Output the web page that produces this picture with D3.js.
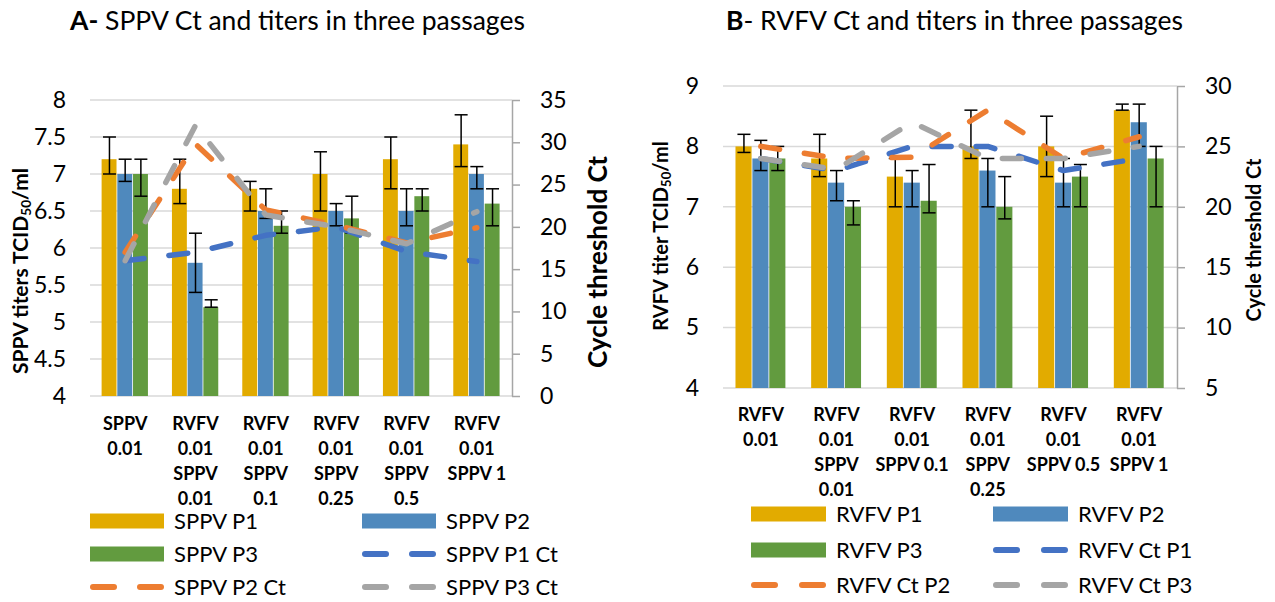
<!DOCTYPE html>
<html><head><meta charset="utf-8">
<script src="https://cdn.jsdelivr.net/npm/d3@7"></script>
<style>
html,body{margin:0;padding:0;background:#fff;}
text{font-family:Lato,"Open Sans",sans-serif;fill:#000;}
</style></head>
<body><svg id="c" width="1275" height="602"></svg>
<script>
// ---------- Panel A data ----------
const catsA = [["SPPV","0.01"],["RVFV","0.01","SPPV","0.01"],["RVFV","0.01","SPPV","0.1"],["RVFV","0.01","SPPV","0.25"],["RVFV","0.01","SPPV","0.5"],["RVFV","0.01","SPPV 1"]];
const p1A = [7.2,6.8,6.8,7.0,7.2,7.4];
const p1A_lo = [7.0,6.6,6.5,6.5,6.8,7.1];
const p1A_hi = [7.5,7.2,6.9,7.3,7.5,7.8];
const p2A = [7.0,5.8,6.5,6.5,6.5,7.0];
const p2A_lo = [6.9,5.4,6.4,6.3,6.3,6.8];
const p2A_hi = [7.2,6.2,6.8,6.6,6.8,7.1];
const p3A = [7.0,5.2,6.3,6.4,6.7,6.6];
const p3A_lo = [6.7,5.2,6.2,6.2,6.5,6.3];
const p3A_hi = [7.2,5.3,6.5,6.7,6.8,6.8];
const ct1A = [16,17,19,20,17.1,15.9];
const ct2A = [17,29.8,22,20.2,18.1,19.9];
const ct3A = [16,32,21.4,20,18,21.8];
const ticksA_left = [4,4.5,5,5.5,6,6.5,7,7.5,8];
const ticksA_right = [0,5,10,15,20,25,30,35];
const legendA = ["SPPV P1","SPPV P2","SPPV P3","SPPV P1 Ct","SPPV P2 Ct","SPPV P3 Ct"];

// ---------- Panel B data ----------
const catsB = [["RVFV","0.01"],["RVFV","0.01","SPPV","0.01"],["RVFV","0.01","SPPV 0.1"],["RVFV","0.01","SPPV","0.25"],["RVFV","0.01","SPPV 0.5"],["RVFV","0.01","SPPV 1"]];
const p1B = [8.0,7.8,7.5,8.0,8.0,8.6];
const p1B_lo = [7.9,7.5,7.0,7.8,7.5,8.6];
const p1B_hi = [8.2,8.2,7.8,8.6,8.5,8.7];
const p2B = [7.8,7.4,7.4,7.6,7.4,8.4];
const p2B_lo = [7.6,7.1,7.0,7.0,7.0,8.0];
const p2B_hi = [8.1,7.6,7.6,7.8,7.8,8.7];
const p3B = [7.8,7.0,7.1,7.0,7.5,7.8];
const p3B_lo = [7.6,6.7,6.9,6.8,7.0,7.0];
const p3B_hi = [8.0,7.1,7.7,7.5,7.7,8.0];
const ct1B = [24,23,25,25,23,24];
const ct2B = [25,24,24.1,28,24,25.8];
const ct3B = [24,23.1,27,24,24,25];
const ticksB_left = [4,5,6,7,8,9];
const ticksB_right = [5,10,15,20,25,30];
const legendB = ["RVFV P1","RVFV P2","RVFV P3","RVFV Ct P1","RVFV Ct P2","RVFV Ct P3"];

const barColors = ["#E2AB00","#4F89BD","#629B3F"];
const lineColors = ["#4472C4","#ED7D31","#A5A5A5"];

const svg = d3.select("#c");

function panel(cfg){
  const g = svg.append("g");
  const x = d3.scaleBand().domain(d3.range(cfg.cats.length)).range([cfg.x0,cfg.x1]).paddingInner(0.33).paddingOuter(0.165);
  const xs = d3.scaleBand().domain([0,1,2]).range([0,x.bandwidth()]);
  const yl = d3.scaleLinear().domain(cfg.ldom).range([cfg.y1,cfg.y0]);
  const yr = d3.scaleLinear().domain(cfg.rdom).range([cfg.y1,cfg.y0]);

  // gridlines
  g.append("g").selectAll("line").data(cfg.lticks).join("line")
    .attr("x1",cfg.x0).attr("x2",cfg.x1).attr("y1",d=>yl(d)).attr("y2",d=>yl(d))
    .attr("stroke","#d9d9d9").attr("stroke-width",1.5);

  // left axis labels
  const la = d3.axisLeft(yl).tickValues(cfg.lticks).tickSize(0).tickPadding(cfg.x0 - cfg.lLabelX).tickFormat(d=>String(d));
  const lag = g.append("g").attr("transform",`translate(${cfg.x0},0)`).call(la);
  lag.select(".domain").remove();
  lag.selectAll("text").attr("font-size",cfg.tickFs).attr("font-family","Lato").attr("fill","#000");

  // right axis
  const ra = d3.axisRight(yr).tickValues(cfg.rticks).tickSizeInner(8).tickSizeOuter(0).tickPadding(cfg.rLabelPad).tickFormat(d=>String(d));
  const rag = g.append("g").attr("transform",`translate(${cfg.x1},0)`).call(ra);
  rag.select(".domain").attr("stroke","#a6a6a6").attr("stroke-width",1.5);
  rag.selectAll(".tick line").attr("stroke","#a6a6a6").attr("stroke-width",1.5);
  rag.selectAll("text").attr("font-size",cfg.tickFs).attr("font-family","Lato").attr("fill","#000");

  // bars
  const series = [cfg.p1,cfg.p2,cfg.p3];
  const los = [cfg.p1lo,cfg.p2lo,cfg.p3lo];
  const his = [cfg.p1hi,cfg.p2hi,cfg.p3hi];
  series.forEach((s,si)=>{
    g.append("g").selectAll("rect").data(s).join("rect")
      .attr("x",(d,i)=>x(i)+xs(si)).attr("width",xs.bandwidth()-0.8)
      .attr("y",d=>yl(d)).attr("height",d=>cfg.y1-yl(d))
      .attr("fill",barColors[si]);
  });
  // error bars
  series.forEach((s,si)=>{
    const eg = g.append("g").attr("stroke","#000").attr("stroke-width",1.5);
    s.forEach((d,i)=>{
      const cx = x(i)+xs(si)+xs.bandwidth()/2;
      const lo = los[si][i], hi = his[si][i];
      eg.append("line").attr("x1",cx).attr("x2",cx).attr("y1",yl(lo)).attr("y2",yl(hi));
      eg.append("line").attr("x1",cx-6.5).attr("x2",cx+6.5).attr("y1",yl(hi)).attr("y2",yl(hi));
      eg.append("line").attr("x1",cx-6.5).attr("x2",cx+6.5).attr("y1",yl(lo)).attr("y2",yl(lo));
    });
  });
  // Ct lines
  const line = d3.line().x((d,i)=>x(i)+x.bandwidth()/2).y(d=>yr(d));
  [cfg.ct1,cfg.ct2,cfg.ct3].forEach((s,si)=>{
    g.append("path").datum(s).attr("d",line).attr("fill","none")
      .attr("stroke",lineColors[si]).attr("stroke-width",5.5)
      .attr("stroke-linecap","round").attr("stroke-linejoin","round")
      .attr("stroke-dasharray","19 25");
  });

  // category labels
  cfg.cats.forEach((lines,i)=>{
    const t = g.append("text").attr("text-anchor","middle").attr("font-weight","bold").attr("font-size",cfg.catFs);
    lines.forEach((ln,k)=>{
      t.append("tspan").attr("x",x(i)+x.bandwidth()/2).attr("y",cfg.catY + k*cfg.catDy).text(ln);
    });
  });

  // title
  const tt = g.append("text").attr("x",cfg.titleX).attr("y",cfg.titleY).attr("font-size",cfg.titleFs);
  tt.append("tspan").attr("font-weight","bold").text(cfg.titleBold);
  tt.append("tspan").text(cfg.titleRest);

  // left axis title
  const lt = g.append("text").attr("transform",`translate(${cfg.lTitleX},${cfg.lTitleY}) rotate(-90)`)
    .attr("text-anchor","middle").attr("font-weight","bold").attr("font-size",cfg.lTitleFs);
  lt.append("tspan").text(cfg.lTitle[0]);
  lt.append("tspan").attr("font-size",cfg.lTitleFs*0.65).attr("dy","0.25em").text(cfg.lTitle[1]);
  lt.append("tspan").attr("dy","-0.17em").text(cfg.lTitle[2]);

  // right axis title
  g.append("text").attr("transform",`translate(${cfg.rTitleX},${cfg.rTitleY}) rotate(-90)`)
    .attr("text-anchor","middle").attr("font-weight","bold").attr("font-size",cfg.rTitleFs).text(cfg.rTitle);

  // legend
  cfg.legend.forEach((name,k)=>{
    const col = k%2, row = Math.floor(k/2);
    const sx = cfg.legX[col], sy = cfg.legY[row];
    const lg = g.append("g");
    if(k<3){
      lg.append("rect").attr("x",sx).attr("y",sy-7.5).attr("width",cfg.swW).attr("height",15).attr("fill",barColors[k]);
    } else {
      const c = lineColors[k-3];
      [[sx+3, sx+24],[sx+cfg.swW-24, sx+cfg.swW-3]].forEach(p=>{
        lg.append("line").attr("x1",p[0]).attr("x2",p[1]).attr("y1",sy).attr("y2",sy)
          .attr("stroke",c).attr("stroke-width",6).attr("stroke-linecap","round");
      });
    }
    lg.append("text").attr("x",sx+cfg.swW+10).attr("y",sy).attr("dy","0.35em").attr("font-size",cfg.legFs).text(name);
  });
}

panel({
  cats:catsA, p1:p1A,p2:p2A,p3:p3A, p1lo:p1A_lo,p1hi:p1A_hi,p2lo:p2A_lo,p2hi:p2A_hi,p3lo:p3A_lo,p3hi:p3A_hi,
  ct1:ct1A,ct2:ct2A,ct3:ct3A,
  x0:90,x1:512,y0:100,y1:396, ldom:[4,8], rdom:[0,35], lticks:ticksA_left, rticks:ticksA_right,
  lLabelX:66, rLabelPad:20, tickFs:23,
  catFs:18, catY:430, catDy:25,
  titleX:70, titleY:30, titleFs:26.5, titleBold:"A-", titleRest:" SPPV Ct and titers in three passages",
  lTitle:["SPPV titers TCID","50","/ml"], lTitleX:28, lTitleY:271, lTitleFs:21,
  rTitle:"Cycle threshold Ct", rTitleX:607, rTitleY:262, rTitleFs:26,
  legend:legendA, legX:[90,362], legY:[521,554,587], swW:74, legFs:22
});

panel({
  cats:catsB, p1:p1B,p2:p2B,p3:p3B, p1lo:p1B_lo,p1hi:p1B_hi,p2lo:p2B_lo,p2hi:p2B_hi,p3lo:p3B_lo,p3hi:p3B_hi,
  ct1:ct1B,ct2:ct2B,ct3:ct3B,
  x0:723,x1:1177,y0:86,y1:388, ldom:[4,9], rdom:[5,30], lticks:ticksB_left, rticks:ticksB_right,
  lLabelX:699, rLabelPad:20, tickFs:23,
  catFs:18, catY:421, catDy:25,
  titleX:726, titleY:30, titleFs:26.5, titleBold:"B", titleRest:"- RVFV Ct and titers in three passages",
  lTitle:["RVFV titer TCID","50","/ml"], lTitleX:668, lTitleY:236, lTitleFs:20,
  rTitle:"Cycle threshold Ct", rTitleX:1261, rTitleY:240, rTitleFs:20,
  legend:legendB, legX:[751,993], legY:[514,550,585], swW:75, legFs:22
});
</script></body></html>
